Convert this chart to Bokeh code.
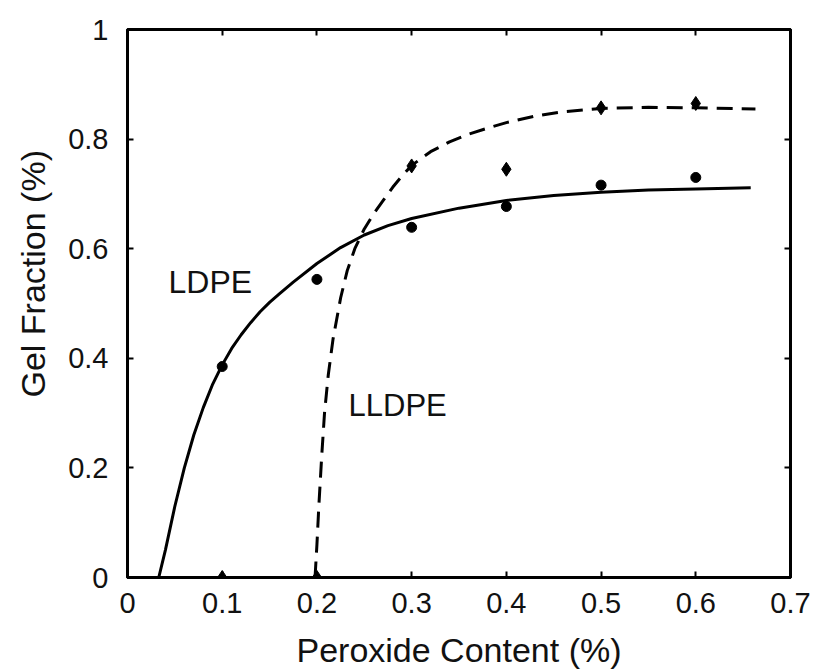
from bokeh.plotting import figure
from bokeh.models import LinearAxis, FixedTicker, Label, Range1d, Title
from bokeh.embed import file_html
from bokeh.resources import INLINE

# ---- data ----
x_ticks = [0, 0.1, 0.2, 0.3, 0.4, 0.5, 0.6, 0.7]
x_tick_labels = ["0", "0.1", "0.2", "0.3", "0.4", "0.5", "0.6", "0.7"]
y_ticks = [0, 0.2, 0.4, 0.6, 0.8, 1.0]
y_tick_labels = ["0", "0.2", "0.4", "0.6", "0.8", "1"]

peroxide = [0.1, 0.2, 0.3, 0.4, 0.5, 0.6]
ldpe_points = [0.385, 0.544, 0.639, 0.677, 0.716, 0.730]
lldpe_points = [0.0, 0.0, 0.751, 0.745, 0.857, 0.865]

ldpe_curve_x = [0.033, 0.040, 0.050, 0.060, 0.070, 0.080, 0.090, 0.100, 0.110,
                0.120, 0.130, 0.140, 0.150, 0.160, 0.175, 0.200, 0.225, 0.250,
                0.275, 0.300, 0.350, 0.400, 0.450, 0.500, 0.550, 0.600, 0.658]
ldpe_curve_y = [0.000, 0.050, 0.130, 0.200, 0.260, 0.310, 0.353, 0.388, 0.418,
                0.443, 0.465, 0.485, 0.502, 0.517, 0.539, 0.573, 0.602, 0.625,
                0.642, 0.655, 0.674, 0.688, 0.697, 0.703, 0.707, 0.709, 0.711]

lldpe_curve_x = [0.198, 0.200, 0.202, 0.205, 0.208, 0.212, 0.217, 0.225, 0.232,
                 0.240, 0.250, 0.260, 0.270, 0.280, 0.290, 0.300, 0.320, 0.340,
                 0.360, 0.380, 0.400, 0.430, 0.460, 0.500, 0.550, 0.600, 0.663]
lldpe_curve_y = [0.000, 0.060, 0.130, 0.220, 0.300, 0.370, 0.435, 0.510, 0.560,
                 0.600, 0.636, 0.664, 0.688, 0.712, 0.733, 0.752, 0.777, 0.795,
                 0.809, 0.820, 0.830, 0.842, 0.850, 0.856, 0.858, 0.857, 0.855]

FONT = "Liberation Sans"
TXT = "#111111"

p = figure(width=815, height=672, x_range=Range1d(0, 0.7), y_range=Range1d(0, 1),
           output_backend="svg", toolbar_location=None,
           min_border_left=127, min_border_right=25, min_border_top=29, min_border_bottom=95)
p.background_fill_color = "white"
p.border_fill_color = "white"
p.xgrid.visible = False
p.ygrid.visible = False
p.outline_line_color = "black"
p.outline_line_width = 3
p.outline_line_alpha = 1.0

# curves
p.line(ldpe_curve_x, ldpe_curve_y, line_color="black", line_width=3)
p.line(lldpe_curve_x, lldpe_curve_y, line_color="black", line_width=3, line_dash="16 9")

# markers
p.scatter(peroxide, ldpe_points, marker="circle", size=10, fill_color="black", line_color="black")
p.scatter(peroxide, lldpe_points, marker="diamond", size=14, fill_color="black", line_color="black")


def style(ax, ticks, labels, show_labels=True):
    ax.ticker = FixedTicker(ticks=ticks)
    ax.minor_tick_line_color = None
    ax.major_tick_in = 6
    ax.major_tick_out = 0
    ax.major_tick_line_width = 2
    ax.major_tick_line_color = "black"
    ax.axis_line_width = 3
    ax.axis_line_color = "black"
    ax.major_label_text_font = FONT
    ax.major_label_text_color = TXT
    if show_labels:
        ax.major_label_overrides = {t: l for t, l in zip(ticks, labels)}
        ax.major_label_text_font_size = "29px"
    else:
        ax.major_label_overrides = {t: "" for t in ticks}
        ax.major_label_text_font_size = "1px"
        ax.major_label_standoff = 0


xa = p.xaxis[0]
style(xa, x_ticks, x_tick_labels)
xa.major_label_standoff = 15
xa.axis_label = "Peroxide Content (%)"
xa.axis_label_text_font = FONT
xa.axis_label_text_font_size = "34px"
xa.axis_label_text_font_style = "normal"
xa.axis_label_text_color = TXT
xa.axis_label_standoff = 15

ya = p.yaxis[0]
style(ya, y_ticks, y_tick_labels)
ya.major_label_standoff = 19

top = LinearAxis()
style(top, x_ticks, x_tick_labels, show_labels=False)
p.add_layout(top, "above")
right = LinearAxis()
style(right, y_ticks, y_tick_labels, show_labels=False)
p.add_layout(right, "right")

# y axis title, placed above the frame centre as in the reference
p.add_layout(Title(text="Gel Fraction (%)", align="left", offset=180, standoff=24,
                   vertical_align="top",
                   text_font=FONT, text_font_size="34px", text_font_style="normal",
                   text_color=TXT), "left")

# in-plot labels
p.add_layout(Label(x=0.0433, y=0.540, text="LDPE", text_font=FONT,
                   text_font_size="32px", text_color=TXT, text_baseline="alphabetic"))
p.add_layout(Label(x=0.2334, y=0.313, text="LLDPE", text_font=FONT,
                   text_font_size="31px", text_color=TXT, text_baseline="alphabetic"))

open("out.html", "w").write(file_html(p, INLINE))
